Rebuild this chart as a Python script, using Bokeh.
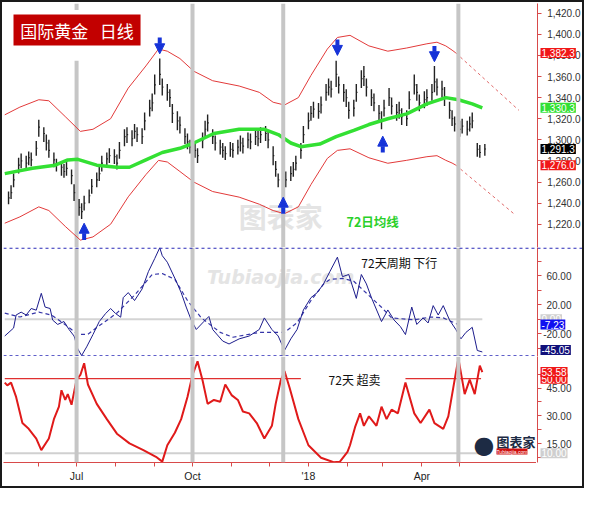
import pandas as pd
from bokeh.plotting import figure
from bokeh.layouts import column, row
from bokeh.models import (Range1d, FixedTicker, NumeralTickFormatter, Span, Label,
                          Arrow, NormalHead, ColumnDataSource)
from bokeh.core.properties import value
from bokeh.embed import file_html
from bokeh.resources import INLINE

# ---------------- data ----------------
bar_start = "2017-05-08"   # one bar per two trading days
close = [1245, 1250, 1262, 1276, 1280, 1278, 1283, 1281, 1292, 1312,
         1306, 1297, 1290, 1281, 1276, 1274, 1270, 1273, 1266, 1250,
         1236, 1232, 1240, 1247, 1256, 1262, 1268, 1278, 1282, 1285,
         1284, 1278, 1290, 1303, 1305, 1301, 1308, 1305, 1303, 1318,
         1330, 1335, 1352, 1362, 1350, 1345, 1340, 1325, 1318, 1314,
         1303, 1298, 1293, 1290, 1285, 1300, 1310, 1316, 1303, 1297,
         1293, 1290, 1287, 1291, 1290, 1293, 1297, 1294, 1300, 1298,
         1303, 1301, 1305, 1306, 1300, 1285, 1272, 1262, 1255, 1262,
         1268, 1272, 1278, 1290, 1305, 1318, 1325, 1329, 1327, 1333,
         1345, 1350, 1348, 1362, 1352, 1345, 1340, 1328, 1330, 1345,
         1358, 1360, 1350, 1340, 1335, 1325, 1318, 1330, 1340, 1332,
         1326, 1328, 1322, 1320, 1338, 1352, 1345, 1335, 1338, 1340,
         1345, 1355, 1350, 1348, 1340, 1328, 1320, 1315, 1310, 1313,
         1310, 1315, 1318, 1291, 1288, 1291.3]
high = [1251, 1257, 1268, 1283, 1287, 1285, 1289, 1288, 1299, 1319,
        1312, 1305, 1300, 1288, 1282, 1280, 1277, 1280, 1272, 1258,
        1244, 1240, 1247, 1253, 1263, 1269, 1275, 1285, 1288, 1292,
        1291, 1286, 1298, 1310, 1312, 1309, 1315, 1312, 1311, 1326,
        1338, 1344, 1362, 1377, 1358, 1353, 1348, 1334, 1327, 1322,
        1311, 1306, 1300, 1297, 1292, 1307, 1318, 1324, 1310, 1304,
        1300, 1297, 1294, 1298, 1297, 1300, 1304, 1302, 1307, 1306,
        1310, 1309, 1312, 1313, 1308, 1294, 1280, 1268, 1262, 1270,
        1275, 1279, 1285, 1297, 1313, 1326, 1332, 1336, 1335, 1341,
        1353, 1358, 1356, 1375, 1360, 1353, 1348, 1336, 1338, 1353,
        1366, 1370, 1358, 1348, 1344, 1333, 1327, 1338, 1349, 1340,
        1334, 1336, 1330, 1328, 1346, 1362, 1353, 1343, 1346, 1348,
        1353, 1370, 1358, 1356, 1350, 1336, 1328, 1322, 1318, 1320,
        1318, 1322, 1326, 1297, 1295, 1296]
low = [1239, 1244, 1255, 1268, 1273, 1272, 1276, 1275, 1285, 1303,
       1298, 1290, 1283, 1274, 1270, 1266, 1264, 1266, 1258, 1242,
       1228, 1225, 1233, 1240, 1249, 1255, 1261, 1270, 1275, 1278,
       1277, 1272, 1282, 1294, 1297, 1294, 1301, 1298, 1296, 1309,
       1322, 1327, 1343, 1352, 1342, 1337, 1331, 1316, 1309, 1306,
       1296, 1291, 1287, 1283, 1278, 1292, 1302, 1308, 1296, 1290,
       1286, 1283, 1281, 1284, 1283, 1286, 1289, 1287, 1292, 1291,
       1295, 1294, 1297, 1299, 1292, 1276, 1265, 1255, 1249, 1255,
       1261, 1265, 1271, 1282, 1297, 1310, 1318, 1321, 1320, 1325,
       1337, 1342, 1340, 1350, 1344, 1336, 1331, 1320, 1322, 1336,
       1349, 1351, 1341, 1332, 1327, 1317, 1310, 1322, 1332, 1324,
       1318, 1320, 1314, 1313, 1329, 1343, 1337, 1327, 1330, 1332,
       1337, 1345, 1342, 1340, 1332, 1320, 1313, 1308, 1303, 1306,
       1304, 1308, 1311, 1284, 1283, 1285]

ma_dates = ["2017-05-05", "2017-05-27", "2017-06-14", "2017-06-24", "2017-07-02",
            "2017-07-17", "2017-08-02", "2017-08-12", "2017-08-25", "2017-09-07",
            "2017-09-21", "2017-10-02", "2017-10-18", "2017-11-07", "2017-11-27",
            "2017-12-08", "2017-12-18", "2017-12-26", "2018-01-10", "2018-01-23",
            "2018-02-06", "2018-02-18", "2018-03-05", "2018-03-20", "2018-04-05",
            "2018-04-20", "2018-04-30", "2018-05-11", "2018-05-19"]
ma_vals = [1268, 1273, 1276, 1281, 1281.5, 1276, 1274, 1274, 1281, 1288,
           1292, 1297, 1306, 1310, 1310, 1305, 1297, 1293.5, 1296, 1303,
           1309, 1314.5, 1320, 1324.6, 1334, 1340, 1338, 1334, 1330.3]

band_dates = ["2017-05-05", "2017-05-17", "2017-06-01", "2017-06-09", "2017-06-22",
              "2017-07-04", "2017-07-14", "2017-07-28", "2017-08-11", "2017-08-25",
              "2017-09-04", "2017-09-11", "2017-09-21", "2017-10-02", "2017-10-17",
              "2017-11-07", "2017-11-23", "2017-12-04", "2017-12-13", "2017-12-24",
              "2018-01-03", "2018-01-16", "2018-01-24", "2018-02-03", "2018-02-18",
              "2018-03-05", "2018-03-20", "2018-04-05", "2018-04-13", "2018-04-20",
              "2018-04-25", "2018-04-28"]
band_upper = [1323.7, 1331, 1338, 1337, 1322, 1308, 1310, 1320, 1349, 1370,
              1386, 1384, 1377, 1365, 1356, 1351, 1345, 1335.6, 1333, 1340,
              1361, 1386, 1397, 1399, 1389, 1384, 1387, 1391, 1392.5, 1389,
              1385, 1382.3]
band_lower = [1221, 1227, 1236.5, 1233, 1218, 1205, 1208, 1220, 1246, 1267,
              1280.5, 1279, 1270, 1260, 1251, 1245.7, 1239, 1233, 1230, 1236.5,
              1257.6, 1282.4, 1290, 1291.5, 1283, 1277.8, 1280.6, 1284, 1285, 1280.6,
              1278, 1276.0]
proj_upper_dates = ["2018-04-28", "2018-06-17"]
proj_upper = [1382.3, 1328]
proj_lower_dates = ["2018-04-28", "2018-06-13"]
proj_lower = [1276.0, 1230]

osc_dates = ["2017-05-05", "2017-05-12", "2017-05-14", "2017-05-18", "2017-05-22",
             "2017-05-26", "2017-05-30", "2017-06-03", "2017-06-06", "2017-06-10",
             "2017-06-12", "2017-06-16", "2017-06-21", "2017-06-25", "2017-06-29",
             "2017-07-02", "2017-07-05", "2017-07-09", "2017-07-14", "2017-07-19",
             "2017-07-24", "2017-07-28", "2017-08-01", "2017-08-05", "2017-08-07",
             "2017-08-11", "2017-08-16", "2017-08-22", "2017-08-27", "2017-09-01",
             "2017-09-05", "2017-09-07", "2017-09-11", "2017-09-18", "2017-09-22",
             "2017-09-26", "2017-09-30", "2017-10-04", "2017-10-10", "2017-10-14",
             "2017-10-17", "2017-10-25", "2017-10-30", "2017-11-07", "2017-11-15",
             "2017-11-23", "2017-11-27", "2017-12-03", "2017-12-08", "2017-12-13",
             "2017-12-18", "2017-12-23", "2017-12-28", "2018-01-03", "2018-01-08",
             "2018-01-13", "2018-01-18", "2018-01-24", "2018-01-28", "2018-02-02",
             "2018-02-08", "2018-02-12", "2018-02-16", "2018-02-20", "2018-02-28",
             "2018-03-05", "2018-03-10", "2018-03-15", "2018-03-19", "2018-03-24",
             "2018-03-28", "2018-04-02", "2018-04-06", "2018-04-10", "2018-04-14",
             "2018-04-18", "2018-04-23", "2018-04-28", "2018-05-02", "2018-05-06",
             "2018-05-11", "2018-05-15", "2018-05-19"]
osc_vals = [-23, -12, 6, 10, 6, 15, 12.7, 36, 17, 15,
            -1, -7, -3, -14, -23, -41, -50, -38, -21, -3,
            8, 15, 8, 3, 30, 37, 26, 42, 66, 84,
            99, 88, 79, 53, 37, 17, -1, -14, -3, 4,
            -14, -30, -34, -27, -23, -14, 2, -14, -23, -43,
            -27, -14, 13, 30, 37, 49, 66, 86, 59, 62,
            29, 62, 49, 30, -3, 13, -1, -10, -21, 17,
            -7, 2, -5, 19, 6, 19, -1, -14, -27, -18,
            -11, -43, -45.05]

oscma_dates = ["2017-05-05", "2017-05-17", "2017-06-01", "2017-06-11", "2017-06-22",
               "2017-07-02", "2017-07-10", "2017-07-17", "2017-08-02", "2017-08-17",
               "2017-08-30", "2017-09-07", "2017-09-17", "2017-09-27", "2017-10-08",
               "2017-10-23", "2017-11-02", "2017-11-23", "2017-12-05", "2017-12-13",
               "2017-12-23", "2018-01-03", "2018-01-13", "2018-01-18", "2018-01-28",
               "2018-02-06", "2018-02-10", "2018-02-28", "2018-03-08", "2018-03-26",
               "2018-04-08", "2018-04-18", "2018-04-30"]
oscma_vals = [8.7, 3.3, 10, 6, -7.3, -20.7, -20.7, -11.3, 8.7, 35.3,
              62, 63.3, 55.3, 26, 2, -18, -24.7, -18, -18, -18,
              -4.7, 26, 48.7, 55.3, 56.7, 52.7, 46, 16.7, 2, -0.7,
              3.3, 2, -7.23]

stoch_dates = ["2017-05-05", "2017-05-07", "2017-05-10", "2017-05-14", "2017-05-19",
               "2017-05-24", "2017-05-30", "2017-06-03", "2017-06-09", "2017-06-13",
               "2017-06-17", "2017-06-19", "2017-06-22", "2017-06-24", "2017-06-27",
               "2017-07-01", "2017-07-04", "2017-07-07", "2017-07-10", "2017-07-17",
               "2017-07-25", "2017-08-02", "2017-08-12", "2017-08-23", "2017-09-02",
               "2017-09-07", "2017-09-11", "2017-09-17", "2017-09-22", "2017-09-27",
               "2017-10-01", "2017-10-05", "2017-10-09", "2017-10-13", "2017-10-18",
               "2017-10-23", "2017-10-27", "2017-11-01", "2017-11-06", "2017-11-10",
               "2017-11-15", "2017-11-21", "2017-11-27", "2017-12-03", "2017-12-06",
               "2017-12-10", "2017-12-13", "2017-12-17", "2017-12-24", "2018-01-01",
               "2018-01-11", "2018-01-21", "2018-01-26", "2018-02-01", "2018-02-03",
               "2018-02-07", "2018-02-11", "2018-02-14", "2018-02-18", "2018-02-24",
               "2018-02-28", "2018-03-04", "2018-03-08", "2018-03-13", "2018-03-19",
               "2018-03-26", "2018-03-31", "2018-04-07", "2018-04-11", "2018-04-18",
               "2018-04-22", "2018-04-26", "2018-04-30", "2018-05-05", "2018-05-09",
               "2018-05-13", "2018-05-17", "2018-05-19"]
stoch_vals = [47.9, 46.4, 47.9, 40.2, 26.2, 23.1, 17.9, 11.7, 17.9, 28.3,
              35, 43.8, 38.6, 41.7, 36, 49.5, 52, 58.3, 46.9, 36.5,
              28.3, 20.5, 15.3, 11.7, 8.1, 5.5, 14.3, 21, 28.3, 40.2,
              52, 59.3, 49, 36.5, 38.6, 37.6, 46.9, 41.2, 38.6, 32.4,
              31.4, 26.2, 17.9, 24.7, 36.5, 49, 54.1, 45.3, 28.3, 14.3,
              7.6, 5.2, 5.5, 10.7, 14.3, 24, 31.4, 24.7, 29.8, 24.7,
              35, 28.3, 33.4, 31.4, 47.9, 31.4, 26.2, 33.4, 26.2, 23.1,
              29.8, 45.3, 60.9, 41.7, 49.5, 41.7, 57, 53.58]

cycle_dates = ["2017-07-01", "2017-10-01", "2017-12-12", "2018-04-30"]
arrow_dates = ["2017-09-05", "2018-01-24", "2018-04-11", "2017-07-07", "2017-12-12", "2018-03-01"]
arrow_tail = [1397, 1395, 1389, 1205, 1230, 1288]
arrow_tip = [1381.5, 1380, 1374, 1221, 1245.7, 1303.5]

data_first, data_last = "2017-05-05", "2018-05-19"
ob_segments = [("2017-05-05", "2017-12-26"), ("2018-03-19", "2018-05-18")]

price_ticks = [1220, 1240, 1260, 1280, 1300, 1320, 1340, 1360, 1380, 1400, 1420]
osc_ticks, osc_minor = [-20, 20, 60], [-40, 0, 40, 80]
stoch_ticks, stoch_minor = [15, 30, 45], [7.5, 22.5, 37.5, 52.5]
month_major = ["2017-07-01", "2017-10-01", "2018-01-01", "2018-04-01"]
month_labels = ["Jul", "Oct", "'18", "Apr"]
month_minor = ["2017-06-01", "2017-08-01", "2017-09-01", "2017-11-01", "2017-12-01",
               "2018-02-01", "2018-03-01", "2018-05-01"]

last_price, ma_last, band_hi_last, band_lo_last = 1291.3, 1330.3, 1382.3, 1276.0
osc_last, oscma_last, osc_zero = -45.05, -7.23, 0.0
stoch_last, stoch_ob, stoch_os = 53.58, 50.0, 10.0

# ---------------- styling ----------------
FONT = "Liberation Sans"
CJK = "Noto Sans CJK SC"
AX_RED = "#d84a4a"
BLUE = "#1633d8"
GRAY = "#c6c6c6"
MW = 534     # main panel width (1px border + 533px frame)
SW = 46      # right value-axis strip

def ms(s):
    return pd.Timestamp(s).value // 10**6

xr = Range1d(pd.Timestamp("2017-05-04"), pd.Timestamp("2018-07-01"))


def make_main(h, yr, bottom=False, top=0):
    p = figure(width=MW, height=h, x_range=xr, y_range=yr, x_axis_type="datetime",
               x_axis_location="below" if bottom else None, y_axis_location=None,
               output_backend="svg", toolbar_location=None,
               min_border_left=1, min_border_right=0, min_border_top=top,
               min_border_bottom=24 if bottom else 0)
    p.outline_line_color = None
    p.grid.visible = False
    p.background_fill_color = "white"
    p.border_fill_color = "white"
    return p


def make_side(h, yr, ticks, minor, fmt, standoff, bottom=False, top=0):
    s = figure(width=SW, height=h, x_range=Range1d(0, 1), y_range=yr,
               x_axis_location=None, y_axis_location="left",
               output_backend="svg", toolbar_location=None,
               min_border_left=1, min_border_right=0, min_border_top=top,
               min_border_bottom=24 if bottom else 0)
    s.outline_line_color = None
    s.grid.visible = False
    s.background_fill_color = "white"
    s.border_fill_color = "white"
    ax = s.yaxis[0]
    ax.ticker = FixedTicker(ticks=ticks, minor_ticks=minor)
    ax.formatter = NumeralTickFormatter(format=fmt)
    ax.axis_line_color = AX_RED
    ax.major_tick_line_color = AX_RED
    ax.minor_tick_line_color = AX_RED
    ax.major_tick_in = 4
    ax.major_tick_out = 0
    ax.minor_tick_in = 4
    ax.minor_tick_out = 0
    ax.major_label_standoff = standoff      # labels sit to the right of the axis line
    ax.major_label_text_font = FONT
    ax.major_label_text_font_size = "10px"
    ax.major_label_text_color = "#333333"
    return s


def vbox(s, y, txt, bg, fg="white", dy=0):
    s.add_layout(Label(x=3, y=y, x_units="screen", y_units="data", text=txt,
                       text_font=FONT, text_font_size="10px", text_color=fg,
                       text_baseline="middle", text_align="left", y_offset=dy,
                       background_fill_color=bg, padding=1))


# ---------- top: price ----------
yr1 = Range1d(1197.98, 1429.17)
p1 = make_main(245, yr1, top=1)
s1 = make_side(245, yr1, price_ticks, [], "0,0.0", -43, top=1)

wm_x = pd.Timestamp("2017-12-10")
p1.text(x=[wm_x], y=[1247], text=["图表家"], text_font=value(CJK), text_font_size="28px",
        text_font_style="bold", text_color="#e4e4e4", text_align="center", text_baseline="top")

for d in cycle_dates[1:]:
    p1.add_layout(Span(location=ms(d), dimension="height", line_color=GRAY, line_width=4))
jul = pd.Timestamp(cycle_dates[0])
p1.segment(x0=[jul, jul], y0=[1197.98, 1423], x1=[jul, jul], y1=[1375, 1429.17],
           line_color=GRAY, line_width=4)

bd = pd.to_datetime(band_dates)
p1.line(bd, band_upper, line_color="#e23a3a", line_width=1)
p1.line(bd, band_lower, line_color="#e23a3a", line_width=1)
p1.line(pd.to_datetime(proj_upper_dates), proj_upper, line_color="#e06a6a", line_width=1, line_dash="3 3")
p1.line(pd.to_datetime(proj_lower_dates), proj_lower, line_color="#e06a6a", line_width=1, line_dash="3 3")

bar_dates = pd.bdate_range(bar_start, periods=len(close), freq="2B")
p1.segment(x0=bar_dates, y0=low, x1=bar_dates, y1=high, line_color="#222222", line_width=1.4)
p1.segment(x0=bar_dates, y0=close, x1=bar_dates + pd.Timedelta(hours=22), y1=close,
           line_color="#222222", line_width=1.2)

p1.line(pd.to_datetime(ma_dates), ma_vals, line_color="#33e033", line_width=3.5)

asrc = ColumnDataSource(dict(x=pd.to_datetime(arrow_dates), y0=arrow_tail, y1=arrow_tip))
p1.add_layout(Arrow(end=NormalHead(size=10, fill_color=BLUE, line_color=BLUE),
                    x_start="x", y_start="y0", x_end="x", y_end="y1",
                    line_color=BLUE, line_width=4, source=asrc))

p1.text(x=[pd.Timestamp("2018-02-21")], y=[1222.8], text=["72日均线"], text_font=value(CJK),
        text_font_size="12.5px", text_font_style="bold", text_color="#2ad02a",
        text_align="center", text_baseline="middle")

p1.add_layout(Label(x=10, y=244 - 11, x_units="screen", y_units="screen",
                    text="\u00a0国际黄金\u00a0\u00a0\u00a0日线\u00a0", text_font=CJK,
                    text_font_size="17px", text_color="white", text_baseline="top",
                    text_align="left", background_fill_color="#c20000", padding=3))

vbox(s1, band_hi_last, "1,382.3", "#f01818")
vbox(s1, ma_last, "1,330.3", "#33e033")
vbox(s1, last_price, "1,291.3", "#000000")
vbox(s1, band_lo_last, "1,276.0", "#f01818")

# ---------- middle: cycle oscillator ----------
yr2 = Range1d(-51.33, 99.33)
p2 = make_main(109, yr2)
s2 = make_side(109, yr2, osc_ticks, osc_minor, "0.00", -34)

p2.text(x=[wm_x], y=[59], text=["Tubiaojia.com"], text_font=value("DejaVu Sans"),
        text_font_size="19px", text_font_style="bold italic", text_color="#e4e4e4",
        text_align="center", text_baseline="middle")

for d in cycle_dates:
    p2.add_layout(Span(location=ms(d), dimension="height", line_color=GRAY, line_width=4))
p2.line(pd.to_datetime([data_first, data_last]), [osc_zero, osc_zero], line_color="#d4d4d4", line_width=2)
for sp in (p2, s2):
    sp.add_layout(Span(location=98.6, dimension="width", line_color="#2a2ab8", line_width=1.2, line_dash="3 3"))
p2.add_layout(Span(location=-50.6, dimension="width", line_color="#2a2ab8", line_width=1.2, line_dash="3 3"))

p2.line(pd.to_datetime(oscma_dates), oscma_vals, line_color="#3535a8", line_width=1.2, line_dash="4 3")
p2.line(pd.to_datetime(osc_dates), osc_vals, line_color="#1c1c8c", line_width=1)

p2.text(x=[pd.Timestamp("2018-02-12")], y=[79], text=["72天周期 下行"], text_font=value(CJK),
        text_font_size="12px", text_color="#111111", text_align="left", text_baseline="middle")

vbox(s2, osc_zero, "0.00", "#cfcfcf")
vbox(s2, oscma_last, "-7.23", "#1010f0")
vbox(s2, osc_last, "-45.05", "#10107a", dy=2)

# ---------- bottom: oscillator % ----------
yr3 = Range1d(5.04, 61.9)
p3 = make_main(130, yr3, bottom=True)
s3 = make_side(130, yr3, stoch_ticks, stoch_minor, "0.00", -34, bottom=True)

for d in cycle_dates:
    p3.add_layout(Span(location=ms(d), dimension="height", line_color=GRAY, line_width=4))
p3.line(pd.to_datetime([data_first, data_last]), [stoch_os, stoch_os], line_color="#d0d0d0", line_width=2)
for a, b in ob_segments:
    p3.line(pd.to_datetime([a, b]), [stoch_ob, stoch_ob], line_color="#e03030", line_width=1.3)

p3.line(pd.to_datetime(stoch_dates), stoch_vals, line_color="#e01a1a", line_width=2)

p3.text(x=[pd.Timestamp("2018-01-17")], y=[49.5], text=["72天 超卖"], text_font=value(CJK),
        text_font_size="12px", text_color="#111111", text_align="left", text_baseline="middle")

# small logo
p3.add_layout(Label(x=470, y=18, x_units="screen", y_units="screen", text="●",
                    text_font="DejaVu Sans", text_font_size="24px", text_color="#1d2b44",
                    text_baseline="middle", text_align="left"))
p3.add_layout(Label(x=493, y=21, x_units="screen", y_units="screen", text="图表家",
                    text_font=CJK, text_font_size="13px", text_font_style="bold",
                    text_color="#1d2b44", text_baseline="middle", text_align="left"))
p3.add_layout(Label(x=493, y=11, x_units="screen", y_units="screen", text="Tubiaojia.com",
                    text_font=FONT, text_font_size="5px", text_color="white",
                    text_baseline="middle", text_align="left", background_fill_color="#d01010"))

vbox(s3, stoch_ob, "50.00", "#f01818")
vbox(s3, stoch_last, "53.58", "#f01818")
vbox(s3, stoch_os, "10.00", "#cfcfcf")

xa = p3.xaxis[0]
majors = [ms(d) for d in month_major]
xa.ticker = FixedTicker(ticks=majors, minor_ticks=[ms(d) for d in month_minor])
xa.major_label_overrides = {m: lab for m, lab in zip(majors, month_labels)}
xa.axis_line_color = AX_RED
xa.major_tick_line_color = AX_RED
xa.minor_tick_line_color = AX_RED
xa.major_tick_in = 0
xa.major_tick_out = 4
xa.minor_tick_in = 0
xa.minor_tick_out = 4
xa.major_label_standoff = 3
xa.major_label_text_font = FONT
xa.major_label_text_font_size = "10.5px"
xa.major_label_text_color = "#222222"

layout = column(row(p1, s1, spacing=0), row(p2, s2, spacing=0), row(p3, s3, spacing=0),
                spacing=0, styles={"border": "2px solid #1a1a1a"})
open("out.html", "w").write(file_html(layout, INLINE))
